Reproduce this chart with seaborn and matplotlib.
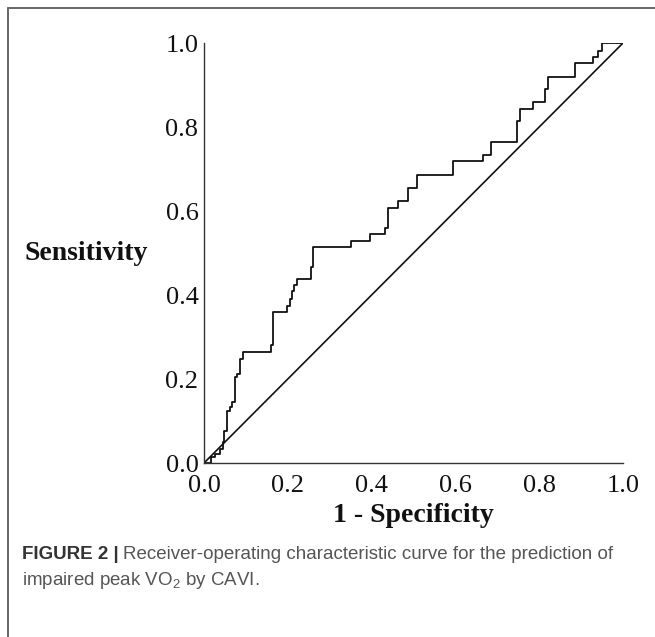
import matplotlib
matplotlib.use("Agg")
import matplotlib.pyplot as plt
from matplotlib.lines import Line2D
import seaborn as sns

# ROC curve corner points (1 - specificity, sensitivity)
fpr = [0.0, 0.017, 0.027, 0.039, 0.046, 0.047, 0.054, 0.063, 0.067, 0.074,
       0.078, 0.087, 0.094, 0.161, 0.165, 0.197, 0.205, 0.21, 0.215, 0.221,
       0.255, 0.261, 0.35, 0.395, 0.432, 0.44, 0.464, 0.488, 0.508, 0.595,
       0.665, 0.684, 0.746, 0.753, 0.786, 0.815, 0.822, 0.885, 0.929, 0.941,
       0.949, 1.0]
tpr = [0.0, 0.014, 0.022, 0.034, 0.05, 0.077, 0.125, 0.133, 0.145, 0.204,
       0.212, 0.248, 0.264, 0.28, 0.36, 0.374, 0.39, 0.41, 0.425, 0.437,
       0.467, 0.515, 0.529, 0.545, 0.56, 0.608, 0.624, 0.655, 0.686, 0.719,
       0.733, 0.764, 0.814, 0.842, 0.859, 0.89, 0.92, 0.952, 0.967, 0.981,
       1.0, 1.0]
ref_x = [0.0, 1.0]
ref_y = [0.0, 1.0]
ticks = [0.0, 0.2, 0.4, 0.6, 0.8, 1.0]
tick_labels = ["0.0", "0.2", "0.4", "0.6", "0.8", "1.0"]

sns.set_style("white")
plt.rcParams["font.family"] = ["Liberation Serif", "DejaVu Serif"]
plt.rcParams["mathtext.fontset"] = "custom"
plt.rcParams["mathtext.rm"] = "Liberation Sans"

fig = plt.figure(figsize=(6.55, 6.37), dpi=100)
ax = fig.add_axes([204 / 655, 1 - 463 / 637, 419 / 655, 420 / 637])

sns.lineplot(x=fpr, y=tpr, ax=ax, estimator=None, sort=False,
             drawstyle="steps-post", color="#111111", linewidth=1.3)
sns.lineplot(x=ref_x, y=ref_y, ax=ax, estimator=None, sort=False,
             color="#111111", linewidth=1.2)

ax.set_xlim(0, 1)
ax.set_ylim(0, 1)
ax.set_xticks(ticks)
ax.set_xticklabels(tick_labels)
ax.set_yticks(ticks)
ax.set_yticklabels(tick_labels)
ax.tick_params(axis="both", length=0, labelsize=19, colors="#111111")
ax.tick_params(axis="x", pad=9)
ax.tick_params(axis="y", pad=4)
sns.despine(ax=ax)
for side in ["left", "bottom"]:
    ax.spines[side].set_color("#333333")
    ax.spines[side].set_linewidth(1.0)

ax.set_xlabel("1 - Specificity", fontsize=20, fontweight="bold", color="#111111",
              va="center")
ax.xaxis.set_label_coords(0.5, -0.125)
ax.set_ylabel("Sensitivity", fontsize=20, fontweight="bold", color="#111111",
              rotation=0, ha="center", va="center")
ax.yaxis.set_label_coords(-0.282, 0.5)

# border lines at the top and on the left
fig.add_artist(Line2D([8 / 655, 1], [1 - 8 / 637, 1 - 8 / 637], transform=fig.transFigure,
                      color="#666666", linewidth=1.4))
fig.add_artist(Line2D([8 / 655, 8 / 655], [0, 1 - 8 / 637], transform=fig.transFigure,
                      color="#666666", linewidth=1.4))

# caption
cap_kw = dict(family=["Liberation Sans", "DejaVu Sans"], fontsize=13.5, va="baseline")
x0 = 22 / 655
y1 = 1 - 559 / 637
y2 = 1 - 585 / 637
t = fig.text(x0, y1, "FIGURE 2 |", fontweight="bold", color="#333333", **cap_kw)
renderer = fig.canvas.get_renderer()
bb = t.get_window_extent(renderer).transformed(fig.transFigure.inverted())
fig.text(bb.x1 + 4 / 655, y1, "Receiver-operating characteristic curve for the prediction of",
         color="#555555", **cap_kw)
fig.text(x0, y2, r"impaired peak VO$_\mathregular{2}$ by CAVI.", color="#555555", **cap_kw)

fig.savefig("out.png", dpi=100)
